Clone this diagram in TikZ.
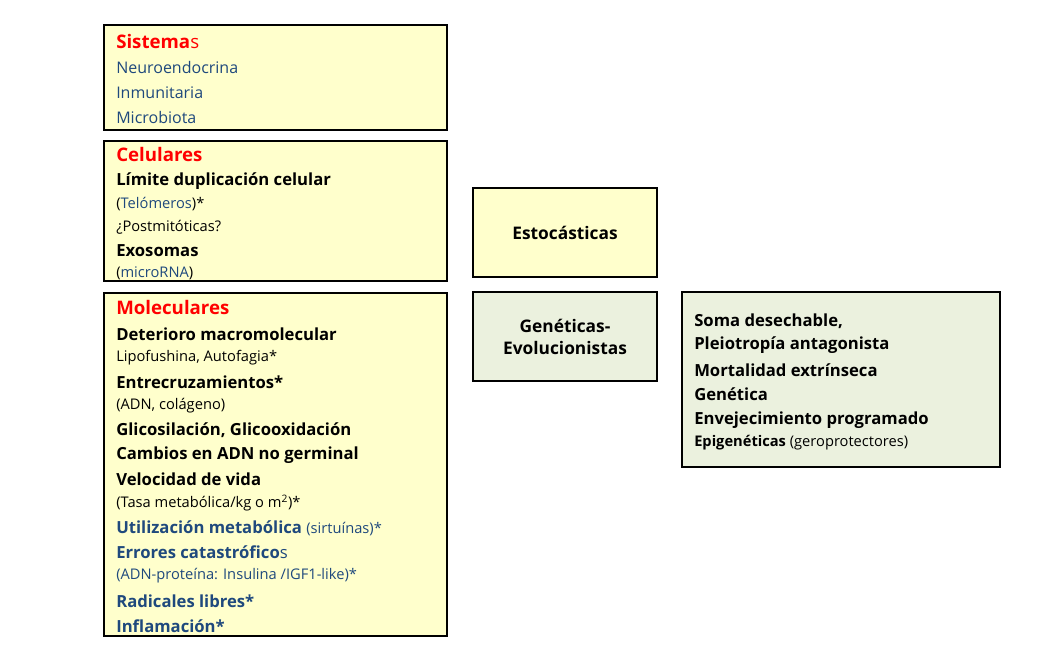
\documentclass[tikz,border=0pt]{standalone}
\usepackage{fontspec}
\setmainfont{Open Sans}
\definecolor{yel}{HTML}{FFFFCC}
\definecolor{grn}{HTML}{EBF1DE}
\definecolor{blu}{HTML}{1F497D}
\definecolor{rd}{HTML}{FF0000}
\begin{document}
\begin{tikzpicture}[x=0.75pt,y=-0.75pt,
 box/.style={draw=black,line width=1.5pt},
 t/.style={anchor=west,inner sep=0pt,font=\fontsize{11}{13}\selectfont},
 b/.style={t,font=\fontsize{12.5}{14}\selectfont\bfseries},
 h/.style={t,font=\fontsize{14}{16}\selectfont\bfseries,text=rd}]
\useasboundingbox (0,0) rectangle (1064,670);
\filldraw[box,fill=yel] (104,25) rectangle (447,130);
\filldraw[box,fill=yel] (104,141) rectangle (447,281);
\filldraw[box,fill=yel] (104,293) rectangle (447,636);
\filldraw[box,fill=yel] (473,188) rectangle (657,277);
\filldraw[box,fill=grn] (473,292) rectangle (657,381);
\filldraw[box,fill=grn] (682,292) rectangle (1000,467);
\node[h] (s1) at (116,42) {Sistema\textcolor{rd}{\mdseries s}};
\node[t,text=blu,font=\fontsize{12}{14}\selectfont] (s2) at (116,68) {Neuroendocrina};
\node[t,text=blu,font=\fontsize{12}{14}\selectfont] (s3) at (116,93) {Inmunitaria};
\node[t,text=blu,font=\fontsize{12}{14}\selectfont] (s4) at (116,118) {Microbiota};
\node[h] (c1) at (116,155) {Celulares};
\node[b] (c2) at (116,181) {Límite duplicación celular};
\node[t] (c3) at (116,204) {(\textcolor{blu}{Telómeros})*};
\node[t] (c4) at (116,227) {¿Postmitóticas?};
\node[b] (c5) at (116,251) {Exosomas};
\node[t] (c6) at (116,273) {(\textcolor{blu}{microRNA})};
\node[h] (m1) at (116,308) {Moleculares};
\node[b] (m2) at (116,334) {Deterioro macromolecular};
\node[t] (m3) at (116,358) {Lipofushina, Autofagia*};
\node[b] (m4) at (116,382) {Entrecruzamientos*};
\node[t] (m5) at (116,406) {(ADN, colágeno)};
\node[b] (m6) at (116,430) {Glicosilación, Glicooxidación};
\node[b] (m7) at (116,455) {Cambios en ADN no germinal};
\node[b] (m8) at (116,479) {Velocidad de vida};
\node[t] (m9) at (116,503) {(Tasa metabólica/kg o m\textsuperscript{2})*};
\node[b,text=blu] (m10) at (116,528) {Utilización metabólica \mdseries\fontsize{11}{13}\selectfont(sirtuínas)*};
\node[b,text=blu] (m11) at (116,552) {Errores catastrófico\mdseries s};
\node[t,text=blu] (m12) at (116,576) {(ADN-proteína: Insulina /IGF1-like)*};
\node[b,text=blu] (m13) at (116,601) {Radicales libres*};
\node[b,text=blu] (m14) at (116,626) {Inflamación*};
\node[font=\fontsize{13}{15}\selectfont\bfseries] (e) at (565,233) {Estocásticas};
\node[font=\fontsize{13}{17}\selectfont\bfseries,align=center] (g) at (565,337) {Genéticas-\\Evolucionistas};
\node[b] (r1) at (694,321) {Soma desechable,};
\node[b] (r2) at (694,345) {Pleiotropía antagonista};
\node[b] (r3) at (694,370) {Mortalidad extrínseca};
\node[b] (r4) at (694,394) {Genética};
\node[b] (r5) at (694,420) {Envejecimiento programado};
\node[t,font=\fontsize{11}{13}\selectfont] (r6) at (694,443) {\bfseries Epigenéticas \mdseries(geroprotectores)};
\end{tikzpicture}
\end{document}
